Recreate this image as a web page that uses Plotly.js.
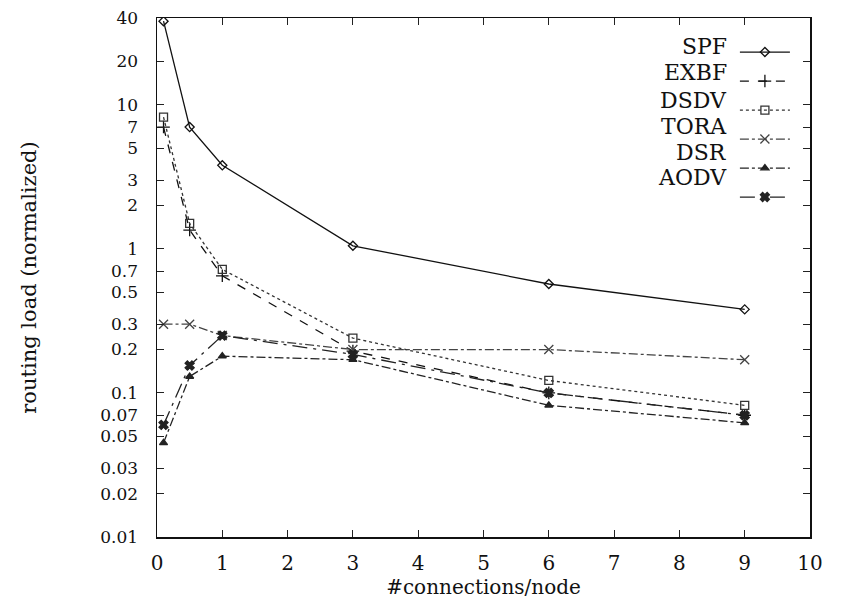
<!DOCTYPE html>
<html>
<head>
<meta charset="utf-8">
<script src="https://cdn.plot.ly/plotly-3.0.1.min.js"></script>
<style>html,body{margin:0;padding:0;background:#fff;}#chart{width:842px;height:601px;}</style>
</head>
<body>
<div id="chart"></div>
<script>
const xValues = [0.1, 0.5, 1, 3, 6, 9];
const seriesNames = ["SPF", "EXBF", "DSDV", "TORA", "DSR", "AODV"];
const spf  = [38, 7.0, 3.8, 1.05, 0.57, 0.38];
const exbf = [7.0, 1.35, 0.65, 0.195, 0.1, 0.07];
const dsdv = [8.2, 1.5, 0.72, 0.24, 0.122, 0.082];
const tora = [0.3, 0.3, 0.25, 0.2, 0.2, 0.17];
const dsr  = [0.045, 0.13, 0.18, 0.17, 0.082, 0.062];
const aodv = [0.06, 0.155, 0.25, 0.185, 0.1, 0.07];
const yTickVals = [0.01, 0.02, 0.03, 0.05, 0.07, 0.1, 0.2, 0.3, 0.5, 0.7, 1, 2, 3, 5, 7, 10, 20, 40];
const yTickText = ["0.01", "0.02", "0.03", "0.05", "0.07", "0.1", "0.2", "0.3", "0.5", "0.7", "1", "2", "3", "5", "7", "10", "20", "40"];
const xTickVals = [0, 1, 2, 3, 4, 5, 6, 7, 8, 9, 10];

const allSeries = [spf, exbf, dsdv, tora, dsr, aodv];
const styles = [
  {dash: "solid", symbol: "diamond-open", size: 7, color: "#111"},
  {dash: "dash", symbol: "cross-thin-open", size: 9, color: "#111"},
  {dash: "dot", symbol: "square-open", size: 8, color: "#333"},
  {dash: "dashdot", symbol: "x-thin-open", size: 9, color: "#444"},
  {dash: "dashdot", symbol: "triangle-up", size: 7, color: "#222"},
  {dash: "longdashdot", symbol: "x", size: 8, color: "#222"}
];
const serif = "DejaVu Serif";

const traces = allSeries.map((ys, i) => ({
  x: xValues, y: ys, name: " ", type: "scatter", mode: "lines+markers",
  line: {color: styles[i].color, width: 1.3, dash: styles[i].dash},
  marker: {symbol: styles[i].symbol, size: styles[i].size, color: styles[i].color,
           line: {color: styles[i].color, width: 1.3}},
  hovertemplate: seriesNames[i] + ": %{y}<extra></extra>"
}));

const legendY = [47, 73, 100, 126, 152, 177];
const annotations = seriesNames.map((n, i) => ({
  text: n, xref: "paper", yref: "paper", x: 0.876, y: 1 - (legendY[i] - 18) / 519,
  xanchor: "right", yanchor: "middle", showarrow: false,
  font: {family: serif, size: 22, color: "#111"}
}));

const layout = {
  width: 842, height: 601,
  margin: {l: 157, r: 32, t: 18, b: 64},
  paper_bgcolor: "#fff", plot_bgcolor: "#fff",
  font: {family: serif, color: "#111"},
  showlegend: true,
  legend: {x: 0.885, y: 0.972, xanchor: "left", yanchor: "top", bgcolor: "rgba(0,0,0,0)",
           font: {family: serif, size: 20}, itemwidth: 50, tracegroupgap: 0},
  xaxis: {range: [0, 10], tickvals: xTickVals, ticks: "inside", ticklen: 7, tickcolor: "#222",
          showgrid: false, zeroline: false, showline: true, linecolor: "#111", linewidth: 1.5,
          mirror: "ticks", ticklabelstandoff: 7, tickfont: {family: serif, size: 20, color: "#111"},
          title: {text: "#connections/node", font: {family: serif, size: 20, color: "#111"}, standoff: 3}},
  yaxis: {type: "log", range: [Math.log10(0.01), Math.log10(40)], tickvals: yTickVals, ticktext: yTickText,
          ticks: "inside", ticklen: 7, tickcolor: "#222", showgrid: false, zeroline: false,
          showline: true, linecolor: "#111", linewidth: 1.5, mirror: "ticks", ticklabelstandoff: 14,
          tickfont: {family: serif, size: 17, color: "#111"},
          title: {text: "routing load (normalized)", font: {family: serif, size: 21, color: "#111"}, standoff: 58}},
  annotations: annotations
};

Plotly.newPlot("chart", traces, layout, {displayModeBar: false, staticPlot: true});
</script>
</body>
</html>
